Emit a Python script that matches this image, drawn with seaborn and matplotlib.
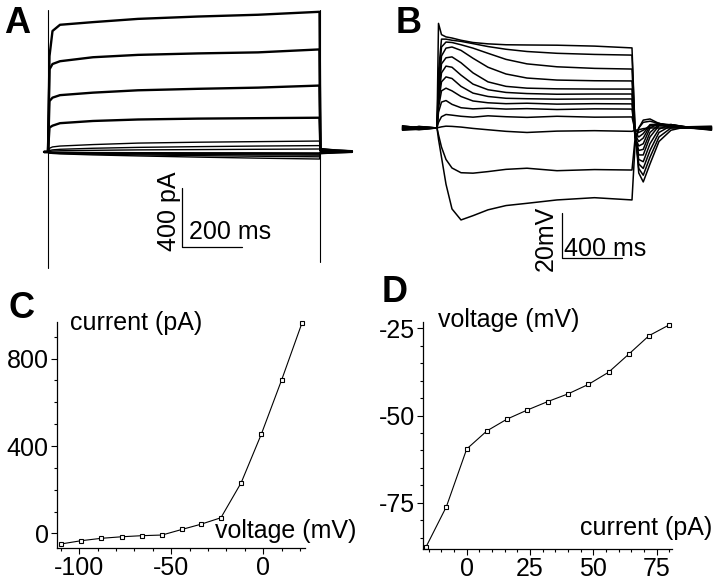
import matplotlib
matplotlib.use("Agg")
import matplotlib.pyplot as plt
from matplotlib.ticker import MultipleLocator
import seaborn as sns

# ---- panel A: current traces (pA) for voltage steps, time in ms ----
a_time = [-13, 0, 5, 15, 40, 150, 300, 500, 700, 905, 908, 960, 1013]
a_p21 = [0, 0, 650, 820, 862, 880, 902, 918, 930, 950, 20, 10, 5]
a_p10 = [0, 0, 560, 596, 615, 642, 658, 668, 675, 695, 18, 9, 4]
a_m1 = [0, 0, 345, 368, 385, 402, 418, 428, 436, 450, 15, 8, 4]
a_m12 = [0, 0, 165, 178, 195, 210, 220, 226, 229, 232, 12, 6, 3]
a_m23 = [0, 0, 25, 34, 40, 50, 60, 66, 70, 74, 8, 4, 2]
a_m34 = [0, 0, 10, 14, 18, 25, 31, 36, 40, 43, 5, 3, 1]
a_m44 = [0, 0, 4, 6, 8, 11, 14, 16, 18, 20, 3, 2, 1]
a_m55 = [0, 0, -2, -3, -3, -4, -5, -6, -6, -7, -2, -1, 0]
a_m66 = [0, 0, -3, -4, -4, -6, -7, -8, -9, -10, -4, -2, -1]
a_m77 = [0, 0, -4, -5, -6, -8, -10, -12, -14, -15, -6, -3, -1]
a_m88 = [0, 0, -5, -6, -8, -11, -14, -17, -20, -22, -8, -4, -2]
a_m99 = [0, 0, -6, -8, -10, -15, -20, -25, -29, -33, -10, -5, -2]
a_m110 = [0, 0, -8, -10, -13, -20, -27, -35, -42, -48, -12, -6, -3]
a_big = [a_p21, a_p10, a_m1, a_m12]
a_small = [a_m23, a_m34, a_m44, a_m55, a_m66, a_m77, a_m88, a_m99, a_m110]
a_artifact_t = [0, 907]
a_artifact_on = [963, -786]
a_artifact_off = [963, -746]

# ---- panel B: voltage traces (mV) for current steps, time in ms ----
b_time = [-230, -120, 0, 10, 30, 60, 100, 160, 240, 340, 460, 600, 800, 1050,
          1300, 1320, 1345, 1375, 1420, 1480, 1560, 1660, 1830]
b_p80 = [-59.5, -60.5, -60, -13.5, -18.5, -19.5, -20, -21, -22, -22.6, -23, -23.1, -23.2, -23.6,
         -24.4, -60, -80, -84, -76, -66, -61, -59.5, -60]
b_p72 = [-60.5, -59.5, -60, -35, -20.5, -20.5, -21, -21.5, -22.5, -23.8, -25, -26, -26.8, -27.3,
         -27.6, -60, -78, -81, -73, -64, -60, -59.5, -60.5]
b_p64 = [-59, -60, -60, -40, -24, -21.8, -22, -23, -24.5, -26.8, -29.5, -31.5, -32.8, -33.5,
         -33.8, -62, -76, -78, -70, -62, -59, -59.5, -59.5]
b_p56 = [-60.8, -60.2, -60, -44, -28, -24.5, -24, -25.5, -29, -33, -36, -37.8, -38.7, -39,
         -39.1, -63, -74, -75, -67, -60.5, -58.5, -59.5, -60.8]
b_p48 = [-59.2, -59.8, -60, -46, -31.5, -28.8, -28.4, -31, -35.5, -39.5, -41.5, -42.3, -42.6, -42.7,
         -42.7, -64, -72, -72, -64, -59, -58.5, -59.5, -59.2]
b_p40 = [-61, -60.6, -60, -47.5, -35.5, -32.5, -33, -36.5, -40.5, -43, -44.2, -44.7, -45, -44.9,
         -44.9, -64, -70, -69.5, -62, -58.5, -58.5, -59.7, -61]
b_p32 = [-60.2, -59.4, -60, -49, -39.5, -37.3, -38, -41.5, -44.5, -46, -46.8, -47, -47.2, -47.1,
         -47.1, -64, -68, -67, -60, -58, -58.7, -59.7, -60.2]
b_p24 = [-59.6, -60.8, -60, -51, -43.5, -42.3, -43.5, -46, -48, -48.8, -49.2, -49, -49.4, -49.2,
         -49.3, -63, -66, -64.5, -59, -58, -59, -60, -59.6]
b_p16 = [-60.4, -59.7, -60, -53, -48.5, -47.8, -49.5, -51, -51.5, -51.2, -51.6, -51.4, -51.8, -51.5,
         -51.6, -62, -64, -62.5, -58.5, -58.3, -59.2, -60, -60.4]
b_p8 = [-59.8, -60.3, -60, -57.5, -55, -54, -54.3, -54.8, -55.2, -54.6, -55, -55.3, -54.8, -55.2,
        -55.1, -61, -62, -61, -59, -59, -59.5, -60, -59.8]
b_0 = [-60.3, -59.6, -60, -59.8, -59.5, -59.2, -59.3, -59.6, -60.2, -60.8, -61.5, -62, -61.4, -61.2,
       -61.5, -61, -60.8, -60.3, -60, -60, -60, -60, -60.3]
b_m8 = [-59.7, -60.4, -60, -63, -68.5, -74, -77.8, -79.9, -80.1, -79.4, -78.4, -77.9, -79, -78.5,
        -78.7, -65, -60, -57.5, -57, -58, -59.5, -60, -59.7]
b_m16 = [-60.6, -59.3, -60, -65, -73, -85, -96, -100.9, -99, -96.4, -94.5, -93.5, -92, -91,
         -92, -68, -60, -56.5, -56, -58, -59.5, -60, -60.6]
b_traces = [b_p80, b_p72, b_p64, b_p56, b_p48, b_p40, b_p32, b_p24, b_p16, b_p8, b_0, b_m8, b_m16]

# ---- panel C: I-V ----
c_voltage = [-110, -99, -88, -77, -66, -55, -44, -34, -23, -12, -1, 10, 21]
c_current = [-48, -33, -22, -15, -10, -7, 19, 42, 72, 232, 455, 702, 961]

# ---- panel D: V-I ----
d_current = [-16, -8, 0, 8, 16, 24, 32, 40, 48, 56, 64, 72, 80]
d_voltage = [-87.6, -76.1, -59.6, -54.4, -51.0, -48.4, -46.0, -43.8, -41.1, -37.6, -32.4, -27.1, -24.0]

sns.set_style("ticks")
plt.rcParams['font.family'] = ['Liberation Sans', 'DejaVu Sans']
plt.rcParams['font.size'] = 18
plt.rcParams['axes.unicode_minus'] = False
for k in ('text.color', 'axes.labelcolor', 'xtick.color', 'ytick.color', 'axes.edgecolor'):
    plt.rcParams[k] = 'black'

W, H = 720, 586
fig = plt.figure(figsize=(W / 100, H / 100), dpi=100)


def box(x0, y0, x1, y1):
    return [x0 / W, 1 - y1 / H, (x1 - x0) / W, (y1 - y0) / H]


def ftext(x, y, s, **kw):
    fig.text(x / W, 1 - y / H, s, **kw)


# panel A
axA = fig.add_axes(box(30, 0, 360, 280))
for tr in a_big:
    sns.lineplot(x=a_time, y=tr, ax=axA, color="black", lw=1.7, estimator=None, sort=False)
for tr in a_small:
    sns.lineplot(x=a_time, y=tr, ax=axA, color="black", lw=1.0, estimator=None, sort=False)
sns.lineplot(x=[a_artifact_t[0]] * 2, y=a_artifact_on, ax=axA, color="black", lw=0.8,
             estimator=None, sort=False)
sns.lineplot(x=[a_artifact_t[1]] * 2, y=a_artifact_off, ax=axA, color="black", lw=0.8,
             estimator=None, sort=False)
axA.plot([448, 448, 648], [-244, -644, -644], color="black", lw=0.9)
axA.text(470, -590, "200 ms", ha="left", va="baseline", fontsize=18)
axA.text(402, -400, "400 pA", rotation=90, ha="center", va="center", fontsize=18)
axA.set_xlim(-60, 1040)
axA.set_ylim(-868, 1030)
axA.axis("off")

# panel B
axB = fig.add_axes(box(390, 0, 720, 280))
for tr in b_traces:
    sns.lineplot(x=b_time, y=tr, ax=axB, color="black", lw=1.1, estimator=None, sort=False)
axB.plot([833, 833, 1233], [-97.8, -117.8, -117.8], color="black", lw=0.9)
axB.text(847, -117.1, "400 ms", ha="left", va="baseline", fontsize=18)
axB.text(727, -109.1, "20mV", rotation=90, ha="center", va="center", fontsize=18)
axB.set_xlim(-313.3, 1886.7)
axB.set_ylim(-127.6, -3.1)
axB.axis("off")


def style_iv(ax):
    sns.despine(ax=ax)
    for s in ("left", "bottom"):
        ax.spines[s].set_linewidth(0.9)
        ax.spines[s].set_color("black")
    ax.tick_params(which="both", direction="out", bottom=True, left=True, width=0.8,
                   labelsize=18, colors="black")
    ax.tick_params(which="major", length=4, pad=2)
    ax.tick_params(which="minor", length=2.5)
    ax.set_xlabel("")
    ax.set_ylabel("")
    ax.set_facecolor("white")


# panel C
axC = fig.add_axes(box(57, 322, 305, 548))
sns.lineplot(x=c_voltage, y=c_current, ax=axC, color="black", lw=0.8, marker="s", markersize=3.2,
             markerfacecolor="white", markeredgecolor="black", markeredgewidth=0.8,
             estimator=None, sort=False, clip_on=False)
axC.set_xlim(-112.1, 22.7)
axC.set_ylim(-66.3, 966.9)
axC.xaxis.set_major_locator(MultipleLocator(50))
axC.xaxis.set_minor_locator(MultipleLocator(10))
axC.yaxis.set_major_locator(MultipleLocator(400))
axC.yaxis.set_minor_locator(MultipleLocator(100))
style_iv(axC)

# panel D
axD = fig.add_axes(box(423, 322, 672, 549))
sns.lineplot(x=d_current, y=d_voltage, ax=axD, color="black", lw=0.8, marker="s", markersize=3.2,
             markerfacecolor="white", markeredgecolor="black", markeredgewidth=0.8,
             estimator=None, sort=False, clip_on=False)
axD.set_xlim(-17.25, 81.05)
axD.set_ylim(-88.27, -23.19)
axD.xaxis.set_major_locator(MultipleLocator(25))
axD.xaxis.set_minor_locator(MultipleLocator(5))
axD.yaxis.set_major_locator(MultipleLocator(25))
axD.yaxis.set_minor_locator(MultipleLocator(5))
style_iv(axD)

# axis captions, placed like the original
ftext(70, 330, "current (pA)", ha="left", va="baseline", fontsize=18)
ftext(215, 538, "voltage (mV)", ha="left", va="baseline", fontsize=18)
ftext(438, 327, "voltage (mV)", ha="left", va="baseline", fontsize=18)
ftext(580, 535, "current (pA)", ha="left", va="baseline", fontsize=18)

# panel letters
for lx, ly, lab in [(4, 33, "A"), (396, 33, "B"), (9, 318, "C"), (382, 302, "D")]:
    ftext(lx, ly, lab, ha="left", va="baseline", fontsize=26, fontweight="bold")

fig.savefig("out.png", dpi=100, facecolor="white")
